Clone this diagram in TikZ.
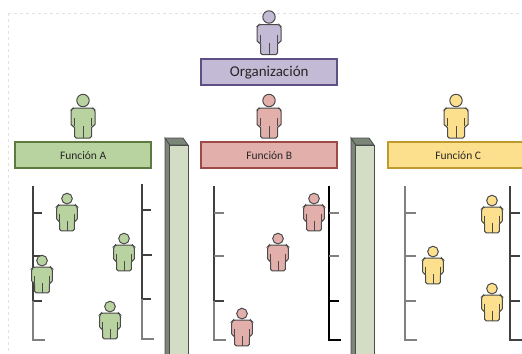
\documentclass[tikz,border=0pt]{standalone}
\usepackage{fontspec}
\setmainfont{Carlito}
\definecolor{gF}{HTML}{B9D3A0}\definecolor{gD}{HTML}{5F7A3F}
\definecolor{rF}{HTML}{E3AFAB}\definecolor{rD}{HTML}{9E4A46}
\definecolor{pF}{HTML}{C3BBD5}\definecolor{pD}{HTML}{5E4F85}
\definecolor{yF}{HTML}{FDE08E}\definecolor{yD}{HTML}{BF9A2F}
\definecolor{pilF}{HTML}{D3DDC6}\definecolor{pilD}{HTML}{7B8578}
\definecolor{figL}{HTML}{4A4A4A}
\definecolor{framec}{HTML}{E2E2E2}
\tikzset{
  x=1bp,y=-1bp,
  funcbox/.style={draw=#1,line width=2.4bp,minimum height=26bp,inner sep=0pt,text=black!85,font=\fontsize{11.5bp}{14bp}\selectfont},
  person/.pic={
    \path[pic actions,rounded corners=1.6bp]
      (-10,14) -- (10,14) -- (12,16) -- (12,32) -- (8.5,32) -- (8.5,44) -- (-8.5,44) -- (-8.5,32) -- (-12,32) -- (-12,16) -- cycle;
    \path[pic actions] (-8.5,24) -- (-8.5,32) (8.5,24) -- (8.5,32) (0,32) -- (0,44);
    \path[pic actions] (0,6.5) circle[radius=6.2];
  },
  bigfig/.style={draw=figL,fill=#1,line width=1bp},
  smallfig/.style={draw=figL,fill=#1,line width=1bp,scale=0.86},
  pilltop/.style={fill=pilD},
  pillface/.style={draw=black!70,fill=pilF,line width=.8bp},
  rulerdark/.style={draw=black!75,line width=1.1bp},
  rulerlight/.style={draw=black!50,line width=1.1bp},
}
\begin{document}
\begin{tikzpicture}
\useasboundingbox (0,0) rectangle (522,353);
% frame
\draw[framec,dashed,line width=.6bp] (8,13.5) -- (522,13.5) (8,13.5) -- (8,353);
% pillars
\foreach \px in {165,351}{
  \path[pilltop,draw=black!70,line width=.8bp] (\px,138) -- (\px+18,138) -- (\px+23,145) -- (\px+4.5,145) -- cycle;
  \path[pilltop,draw=black!70,line width=.8bp] (\px,138) -- (\px+4.5,145) -- (\px+4.5,360) -- (\px,360) -- cycle;
  \path[pillface] (\px+4.5,145) rectangle (\px+23,360);
}
% rulers
\draw[rulerdark] (33,186) -- (33,301) (33,213) -- (42,213) (33,256) -- (42,256) (33,301) -- (42,301);
\draw[rulerlight] (33,301) -- (33,340) -- (45,340);
\draw[rulerdark] (142,184) -- (142,299) (142,210) -- (151,210) (142,255) -- (152,255) (142,299) -- (151,299);
\draw[rulerlight] (142,299) -- (142,339) -- (154,339);
\draw[rulerdark] (214,186) -- (214,301) (214,301) -- (224,301);
\draw[rulerlight] (214,213) -- (224,213) (214,256) -- (224,256);
\draw[rulerlight] (214,301) -- (214,340) -- (226,340);
\draw[black,line width=1.1bp] (329,186) -- (329,340) -- (341,340) (329,301) -- (339,301);
\draw[rulerlight] (329,213) -- (339,213) (329,256) -- (339,256);
\draw[rulerlight] (405,186) -- (405,340) -- (417,340) (405,213) -- (416,213) (405,256) -- (416,256) (405,301) -- (416,301);
\draw[rulerdark] (510,186) -- (510,340) -- (522,340) (510,213) -- (520,213) (510,256) -- (520,256) (510,301) -- (520,301);
% boxes
\node[funcbox=pD,fill=pF,minimum width=136bp,anchor=north west,font=\fontsize{15bp}{17bp}\selectfont] (org) at (200,58) {Organización};
\node[funcbox=gD,fill=gF,minimum width=136bp,anchor=north west] (fa) at (14,141) {Función A};
\node[funcbox=rD,fill=rF,minimum width=136bp,anchor=north west] (fb) at (200,141) {Función B};
\node[funcbox=yD,fill=yF,minimum width=140bp,anchor=north west] (fc) at (387,141) {Función C};
% big figures
\pic[bigfig=pF] at (269,10.5) {person};
\pic[bigfig=gF] at (83,94) {person};
\pic[bigfig=rF] at (269,94) {person};
\pic[bigfig=yF] at (456,94) {person};
% small figures
\foreach \fx/\fy in {67/193,124/233,42/255,110/301}{\pic[smallfig=gF] at (\fx,\fy) {person};}
\foreach \fx/\fy in {242/308,314/193,278/233}{\pic[smallfig=rF] at (\fx,\fy) {person};}
\foreach \fx/\fy in {492/195,433/246,492/283}{\pic[smallfig=yF] at (\fx,\fy) {person};}
\end{tikzpicture}
\end{document}
